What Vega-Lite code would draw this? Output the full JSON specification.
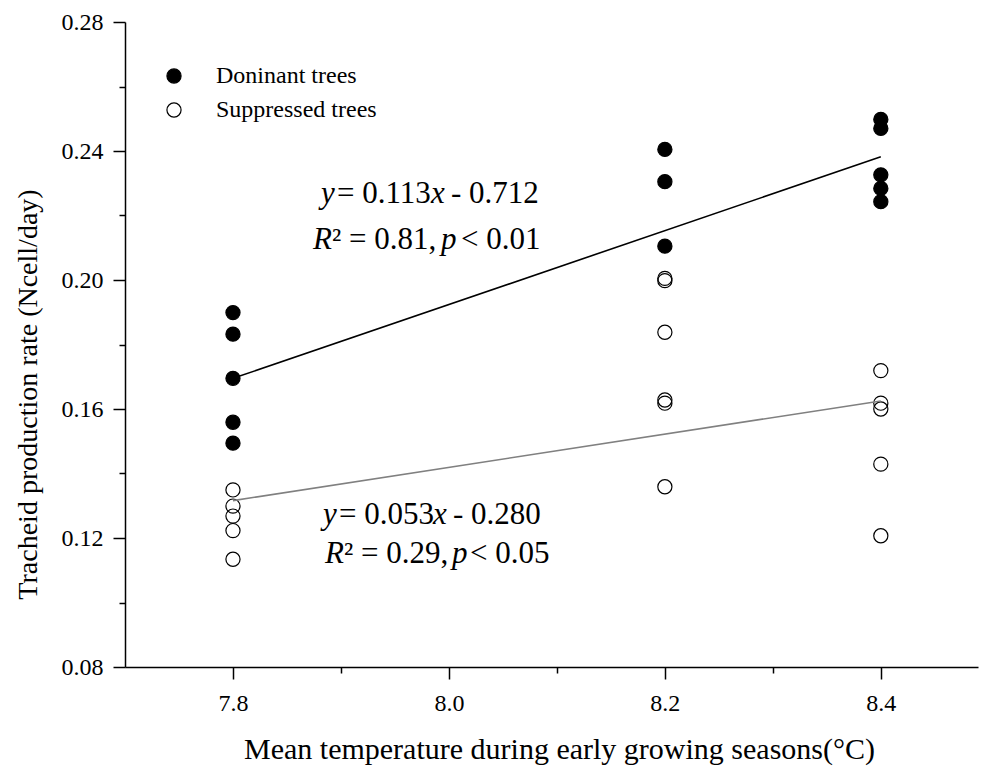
{
  "$schema": "https://vega.github.io/schema/vega-lite/v6.json",
  "width": 853,
  "height": 645,
  "autosize": {"type": "none"},
  "padding": {"left": 125, "top": 22, "right": 4, "bottom": 105},
  "background": "white",
  "config": {
    "view": {"stroke": null},
    "font": "Liberation Serif",
    "axis": {"grid": false, "labelFont": "Liberation Serif", "labelFontSize": 24, "labelColor": "black", "titleFont": "Liberation Serif", "titleFontWeight": "normal", "titleColor": "black"},
    "legend": {"labelFont": "Liberation Serif", "labelFontSize": 24, "labelColor": "black", "labelLimit": 400}
  },
  "datasets": {
    "pts": [
      {"temp": 7.8, "rate": 0.1899, "group": "Doninant trees"},
      {"temp": 7.8, "rate": 0.1832, "group": "Doninant trees"},
      {"temp": 7.8, "rate": 0.1695, "group": "Doninant trees"},
      {"temp": 7.8, "rate": 0.1559, "group": "Doninant trees"},
      {"temp": 7.8, "rate": 0.1494, "group": "Doninant trees"},
      {"temp": 8.2, "rate": 0.2405, "group": "Doninant trees"},
      {"temp": 8.2, "rate": 0.2305, "group": "Doninant trees"},
      {"temp": 8.2, "rate": 0.2105, "group": "Doninant trees"},
      {"temp": 8.4, "rate": 0.2498, "group": "Doninant trees"},
      {"temp": 8.4, "rate": 0.2470, "group": "Doninant trees"},
      {"temp": 8.4, "rate": 0.2326, "group": "Doninant trees"},
      {"temp": 8.4, "rate": 0.2284, "group": "Doninant trees"},
      {"temp": 8.4, "rate": 0.2243, "group": "Doninant trees"},
      {"temp": 7.8, "rate": 0.1349, "group": "Suppressed trees"},
      {"temp": 7.8, "rate": 0.1299, "group": "Suppressed trees"},
      {"temp": 7.8, "rate": 0.1268, "group": "Suppressed trees"},
      {"temp": 7.8, "rate": 0.1223, "group": "Suppressed trees"},
      {"temp": 7.8, "rate": 0.1134, "group": "Suppressed trees"},
      {"temp": 8.2, "rate": 0.2005, "group": "Suppressed trees"},
      {"temp": 8.2, "rate": 0.1998, "group": "Suppressed trees"},
      {"temp": 8.2, "rate": 0.1838, "group": "Suppressed trees"},
      {"temp": 8.2, "rate": 0.1628, "group": "Suppressed trees"},
      {"temp": 8.2, "rate": 0.1618, "group": "Suppressed trees"},
      {"temp": 8.2, "rate": 0.1359, "group": "Suppressed trees"},
      {"temp": 8.4, "rate": 0.1719, "group": "Suppressed trees"},
      {"temp": 8.4, "rate": 0.1618, "group": "Suppressed trees"},
      {"temp": 8.4, "rate": 0.1600, "group": "Suppressed trees"},
      {"temp": 8.4, "rate": 0.1429, "group": "Suppressed trees"},
      {"temp": 8.4, "rate": 0.1207, "group": "Suppressed trees"}
    ],
    "fitD": [
      {"temp": 7.8, "rate": 0.1695},
      {"temp": 8.4, "rate": 0.2382}
    ],
    "fitS": [
      {"temp": 7.8, "rate": 0.1316},
      {"temp": 8.4, "rate": 0.1625}
    ],
    "italic": [
      {"temp": 7.88148, "rate": 0.22388, "s": "y"},
      {"temp": 7.98333, "rate": 0.22388, "s": "x"},
      {"temp": 7.87407, "rate": 0.20961, "s": "R"},
      {"temp": 7.99259, "rate": 0.20961, "s": "p"},
      {"temp": 7.88333, "rate": 0.12434, "s": "y"},
      {"temp": 7.98519, "rate": 0.12434, "s": "x"},
      {"temp": 7.88519, "rate": 0.11225, "s": "R"},
      {"temp": 8.00278, "rate": 0.11225, "s": "p"}
    ],
    "regular": [
      {"temp": 7.8963, "rate": 0.22388, "s": "= 0.113"},
      {"temp": 8.00185, "rate": 0.22388, "s": "- 0.712"},
      {"temp": 7.89167, "rate": 0.20961, "s": "² = 0.81,"},
      {"temp": 8.01111, "rate": 0.20961, "s": "< 0.01"},
      {"temp": 7.89815, "rate": 0.12434, "s": "= 0.053"},
      {"temp": 8.0037, "rate": 0.12434, "s": "- 0.280"},
      {"temp": 7.90278, "rate": 0.11225, "s": "² = 0.29,"},
      {"temp": 8.01944, "rate": 0.11225, "s": "< 0.05"}
    ]
  },
  "layer": [
    {
      "data": {"name": "pts"},
      "mark": {"type": "point", "shape": "circle", "filled": true, "opacity": 1, "size": 200, "stroke": "black", "strokeWidth": 1.2},
      "encoding": {
        "x": {
          "field": "temp", "type": "quantitative",
          "scale": {"domain": [7.7, 8.49], "nice": false, "zero": false},
          "axis": {
            "title": "Mean temperature during early growing seasons(°C)",
            "values": [7.8, 7.9, 8.0, 8.1, 8.2, 8.3, 8.4],
            "labelExpr": "abs(datum.value*5 - round(datum.value*5)) < 0.001 ? format(datum.value, '.1f') : ''",
            "tickSize": {"condition": {"test": "abs(datum.value*5 - round(datum.value*5)) < 0.001", "value": 12}, "value": 6},
            "domainColor": "black", "domainWidth": 1.5,
            "tickColor": "black", "tickWidth": 1.5,
            "labelFont": "Liberation Serif", "labelFontSize": 24, "labelColor": "black",
            "labelPadding": 12, "labelFlush": false, "labelOverlap": false,
            "titleFont": "Liberation Serif", "titleFontSize": 30, "titleFontWeight": "normal", "titleColor": "black",
            "titleX": 434, "titleY": 91, "titleBaseline": "alphabetic", "titleAlign": "center"
          }
        },
        "y": {
          "field": "rate", "type": "quantitative",
          "scale": {"domain": [0.08, 0.28], "nice": false, "zero": false},
          "axis": {
            "title": "Tracheid production rate (Ncell/day)",
            "values": [0.08, 0.10, 0.12, 0.14, 0.16, 0.18, 0.20, 0.22, 0.24, 0.26, 0.28],
            "labelExpr": "abs(datum.value*25 - round(datum.value*25)) < 0.001 ? format(datum.value, '.2f') : ''",
            "tickSize": {"condition": {"test": "abs(datum.value*25 - round(datum.value*25)) < 0.001", "value": 12}, "value": 6},
            "domainColor": "black", "domainWidth": 1.5,
            "tickColor": "black", "tickWidth": 1.5,
            "labelFont": "Liberation Serif", "labelFontSize": 24, "labelColor": "black",
            "labelPadding": 10, "labelFlush": false, "labelOverlap": false,
            "titleFont": "Liberation Serif", "titleFontSize": 28, "titleFontWeight": "normal", "titleColor": "black",
            "titleAngle": -90, "titleX": -97, "titleY": 372, "titleBaseline": "middle", "titleAlign": "center"
          }
        },
        "fill": {
          "field": "group", "type": "nominal",
          "scale": {"domain": ["Doninant trees", "Suppressed trees"], "range": ["black", "transparent"]},
          "legend": {
            "title": null, "orient": "none", "legendX": 37, "legendY": 42,
            "symbolType": "circle", "symbolSize": 200, "symbolStrokeColor": "black", "symbolStrokeWidth": 1.2, "symbolOpacity": 1,
            "labelFont": "Liberation Serif", "labelFontSize": 24, "labelColor": "black", "labelLimit": 400,
            "labelOffset": 30, "rowPadding": 10, "padding": 0
          }
        }
      }
    },
    {
      "data": {"name": "fitD"},
      "mark": {"type": "line", "strokeWidth": 1.6, "color": "black"},
      "encoding": {
        "x": {"field": "temp", "type": "quantitative"},
        "y": {"field": "rate", "type": "quantitative"}
      }
    },
    {
      "data": {"name": "fitS"},
      "mark": {"type": "line", "strokeWidth": 1.6, "color": "#808080"},
      "encoding": {
        "x": {"field": "temp", "type": "quantitative"},
        "y": {"field": "rate", "type": "quantitative"}
      }
    },
    {
      "data": {"name": "italic"},
      "mark": {"type": "text", "align": "left", "baseline": "alphabetic", "font": "Liberation Serif", "fontSize": 31, "fontStyle": "italic", "color": "black"},
      "encoding": {
        "x": {"field": "temp", "type": "quantitative"},
        "y": {"field": "rate", "type": "quantitative"},
        "text": {"field": "s"}
      }
    },
    {
      "data": {"name": "regular"},
      "mark": {"type": "text", "align": "left", "baseline": "alphabetic", "font": "Liberation Serif", "fontSize": 31, "color": "black"},
      "encoding": {
        "x": {"field": "temp", "type": "quantitative"},
        "y": {"field": "rate", "type": "quantitative"},
        "text": {"field": "s"}
      }
    }
  ]
}
